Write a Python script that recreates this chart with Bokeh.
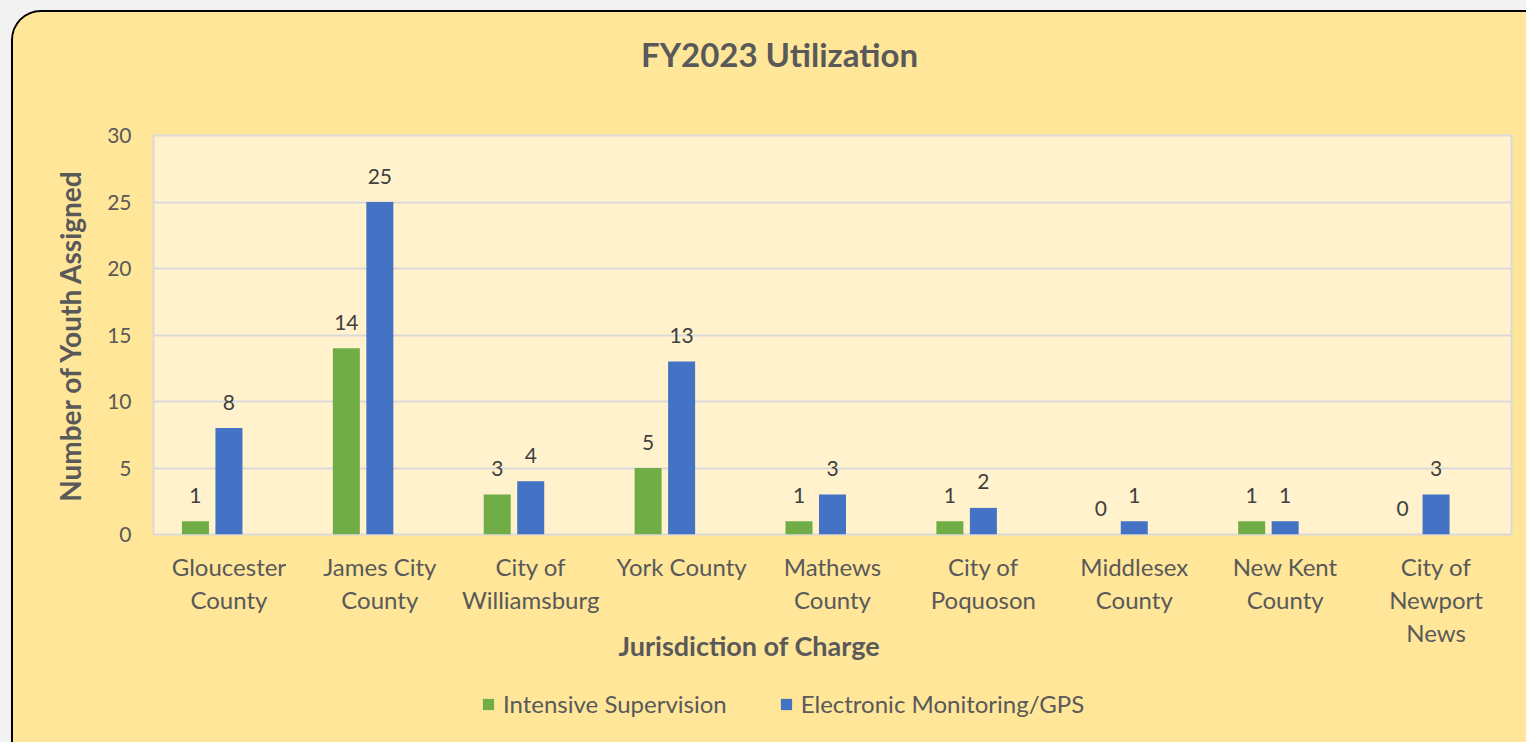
from bokeh.plotting import figure
from bokeh.layouts import column
from bokeh.models import (FactorRange, Range1d, FixedTicker, Title, Label,
                          Legend, LegendItem, ColumnDataSource)
from bokeh.transform import dodge
from bokeh.core.properties import value
from bokeh.embed import file_html
from bokeh.resources import INLINE

# ---- data ----
jurisdictions = ["Gloucester County", "James City County", "City of Williamsburg",
                 "York County", "Mathews County", "City of Poquoson",
                 "Middlesex County", "New Kent County", "City of Newport News"]
tick_labels = ["Gloucester\nCounty", "James City\nCounty", "City of\nWilliamsburg",
               "York County", "Mathews\nCounty", "City of\nPoquoson",
               "Middlesex\nCounty", "New Kent\nCounty", "City of\nNewport\nNews"]
intensive = [1, 14, 3, 5, 1, 1, 0, 1, 0]
electronic = [8, 25, 4, 13, 3, 2, 1, 1, 3]
series_names = ["Intensive Supervision", "Electronic Monitoring/GPS"]
y_ticks = [0, 5, 10, 15, 20, 25, 30]
title_text = "FY2023 Utilization"
x_title = "Jurisdiction of Charge"
y_title = "Number of Youth Assigned"

# ---- style ----
FONT = "Lato"
GREEN = "#70AD47"
BLUE = "#4472C4"
OUTER = "#FFE699"
INNER = "#FFF2CC"
TXT = "#595959"
LBL = "#404040"
W = 1513
FW = 1358   # plot-area width (frames of stacked figures are aligned)


def blank_fig(h):
    f = figure(width=W, height=h, x_range=Range1d(0, FW), y_range=Range1d(0, h),
               min_border=0, x_axis_type=None, y_axis_type=None,
               output_backend="svg", toolbar_location=None,
               border_fill_color=OUTER, background_fill_color=OUTER)
    f.grid.visible = False
    f.outline_line_color = None
    return f


# ---- title strip ----
top = blank_fig(88)
top.add_layout(Label(x=626, y=47, text=title_text, text_align="center",
                     text_baseline="middle", text_font=FONT, text_font_size="33px",
                     text_font_style="bold", text_color=TXT))

# ---- main chart ----
src = ColumnDataSource(dict(cat=tick_labels, a=intensive, b=electronic,
                            a_txt=[str(v) for v in intensive],
                            b_txt=[str(v) for v in electronic]))

p = figure(x_range=FactorRange(*tick_labels, range_padding=0),
           y_range=Range1d(0, 30),
           frame_width=FW, frame_height=399,
           min_border_left=140, min_border_right=15,
           min_border_top=35, min_border_bottom=146,
           output_backend="svg", toolbar_location=None,
           border_fill_color=OUTER, background_fill_color=INNER)

p.outline_line_color = "#D9D9D9"
p.outline_line_width = 2

p.xgrid.grid_line_color = None
p.ygrid.grid_line_color = "#D9D9D9"
p.ygrid.grid_line_width = 2
p.yaxis.ticker = FixedTicker(ticks=y_ticks)

for ax in (p.xaxis[0], p.yaxis[0]):
    ax.axis_line_color = None
    ax.major_tick_line_color = None
    ax.minor_tick_line_color = None
    ax.major_tick_in = 0
    ax.major_tick_out = 0
    ax.major_label_text_font = FONT
    ax.major_label_text_color = TXT

p.yaxis.major_label_text_font_size = "21px"
p.yaxis.major_label_standoff = 22
p.yaxis.axis_label = y_title
p.yaxis.axis_label_standoff = 17
p.yaxis.axis_label_text_font = FONT
p.yaxis.axis_label_text_font_size = "28px"
p.yaxis.axis_label_text_font_style = "bold"
p.yaxis.axis_label_text_color = TXT

p.xaxis.major_label_text_font_size = "24px"
p.xaxis.major_label_standoff = 17
p.xaxis.major_label_text_line_height = 1.15

bw = 0.179
r_a = p.vbar(x=dodge("cat", -0.222, range=p.x_range), top="a", width=bw, source=src,
             fill_color=GREEN, line_color=None)
r_b = p.vbar(x=dodge("cat", 0.0, range=p.x_range), top="b", width=bw, source=src,
             fill_color=BLUE, line_color=None)

p.text(x=dodge("cat", -0.222, range=p.x_range), y="a", text="a_txt", source=src,
       text_align="center", text_baseline="middle", y_offset=-26,
       text_font=value(FONT), text_font_size="21px", text_color=LBL)
p.text(x=dodge("cat", 0.0, range=p.x_range), y="b", text="b_txt", source=src,
       text_align="center", text_baseline="middle", y_offset=-26,
       text_font=value(FONT), text_font_size="21px", text_color=LBL)

xt = Title(text=x_title, align="left", vertical_align="top", offset=465, standoff=-44,
           text_font=FONT, text_font_size="27px", text_font_style="bold",
           text_color=TXT)
p.add_layout(xt, "below")

# ---- legend strip ----
bot = blank_fig(62)
g_a = bot.vbar(x=[-1000], top=[0], width=1, fill_color=GREEN, line_color=None)
g_b = bot.vbar(x=[-1000], top=[0], width=1, fill_color=BLUE, line_color=None)
legend = Legend(items=[LegendItem(label=series_names[0], renderers=[g_a]),
                       LegendItem(label=series_names[1], renderers=[g_b])],
                orientation="horizontal", location=(328, 24),
                glyph_width=14, glyph_height=14, label_standoff=8, spacing=52,
                padding=0, margin=0, border_line_color=None, background_fill_alpha=0,
                label_text_font=FONT, label_text_font_size="24px",
                label_text_color=TXT, label_height=14)
bot.add_layout(legend)

lay = column(top, p, bot, spacing=0)
lay.margin = (12, 0, 0, 13)
lay.styles = {"border-radius": "28px 0 0 0", "overflow": "hidden",
              "background-color": OUTER,
              "box-shadow": "0 0 0 2px #000000, 0 0 0 80px #F2F2F2"}

open("out.html", "w").write(file_html(lay, INLINE))
